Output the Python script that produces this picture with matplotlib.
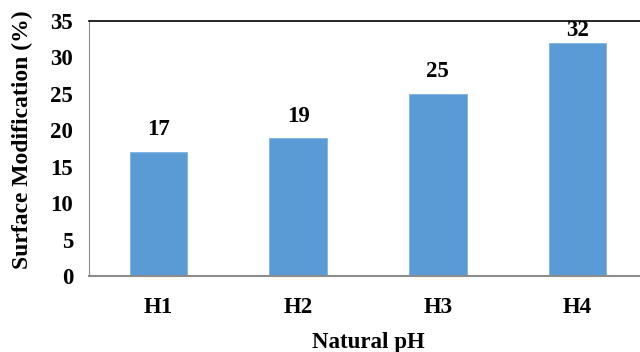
import matplotlib
matplotlib.use("Agg")
import matplotlib.pyplot as plt

categories = ["H1", "H2", "H3", "H4"]
values = [17, 19, 25, 32]
label_offsets = [12, 11, 12, 2]  # px gap between bar top and its value label

plt.rcParams["font.family"] = ["Liberation Serif", "DejaVu Serif"]
plt.rcParams["font.weight"] = "bold"
FS = 16.5

fig = plt.figure(figsize=(6.4, 3.52), dpi=100)
ax = fig.add_axes([88.5 / 640, 76 / 352, 559 / 640, 255 / 352])

x = range(len(categories))
bars = ax.bar(x, values, width=0.41, color="#5B9BD5", edgecolor="#7FB2E0", linewidth=0.6)

for xi, v, off in zip(x, values, label_offsets):
    ax.annotate(str(v), (xi, v), xytext=(0, off * 0.72), textcoords="offset points",
                ha="center", va="bottom", fontsize=FS, fontweight="bold", color="black")

ax.set_xlim(-0.5, 3.5)
ax.set_ylim(0, 35)
ax.set_yticks(range(0, 36, 5))
ax.set_xticks(list(x))
ax.set_xticklabels(categories)
ax.tick_params(axis="both", length=0, labelsize=FS)
ax.tick_params(axis="y", pad=11)
ax.tick_params(axis="x", pad=15)
for lbl in ax.get_xticklabels() + ax.get_yticklabels():
    lbl.set_fontweight("bold")

ax.spines["right"].set_visible(False)
ax.spines["top"].set_color("black")
ax.spines["top"].set_linewidth(1.2)
ax.spines["left"].set_color("#8C8C8C")
ax.spines["left"].set_linewidth(0.8)
ax.spines["bottom"].set_color("#8C8C8C")
ax.spines["bottom"].set_linewidth(1.5)

ax.set_xlabel("Natural pH", fontsize=FS, fontweight="bold", labelpad=10)
ax.set_ylabel("Surface Modification (%)", fontsize=17, fontweight="bold")
ax.yaxis.set_label_coords(-0.1, 0.535)

fig.savefig("out.png", dpi=100)
